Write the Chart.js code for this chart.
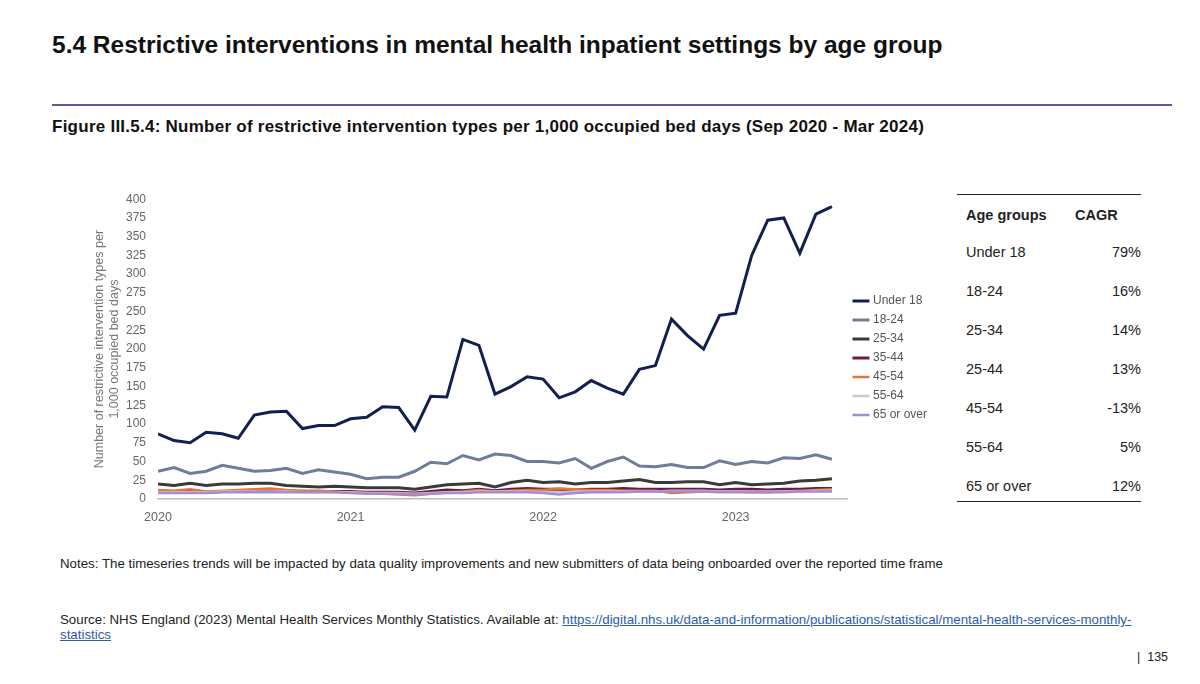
<!DOCTYPE html>
<html><head><meta charset="utf-8">
<script src="https://cdn.jsdelivr.net/npm/chart.js@4"></script>
<style>
body{margin:0;width:1200px;height:684px;background:#fff;font-family:Arial,"Liberation Sans",sans-serif;position:relative;overflow:hidden}
#t1{position:absolute;left:52px;top:31px;font-size:24.5px;font-weight:bold;color:#111}
#rule{position:absolute;left:52px;top:104px;width:1120px;border-top:2px solid #5c5a99}
#t2{position:absolute;left:52px;top:117px;font-size:17px;letter-spacing:0.25px;font-weight:bold;color:#111}
#wrap{position:absolute;left:92px;top:188px;width:845px;height:340px}
#tbl{position:absolute;left:957px;top:194px;width:184px;border-top:1.5px solid #222;border-bottom:1.5px solid #222;height:306px;font-size:14.5px;color:#222}
.r{position:absolute;left:9px;right:0}
.r span.v{position:absolute;right:0}
#notes{position:absolute;left:60px;top:556px;font-size:13.3px;color:#222}
#src{position:absolute;left:60px;top:612px;font-size:13.3px;color:#222;width:1120px;line-height:15px}
#src a{color:#2a5db0}
#pg{position:absolute;left:1137px;top:650px;font-size:12.5px;color:#222}
</style></head><body>
<div id="t1">5.4 Restrictive interventions in mental health inpatient settings by age group</div>
<div id="rule"></div>
<div id="t2">Figure III.5.4: Number of restrictive intervention types per 1,000 occupied bed days (Sep 2020 - Mar 2024)</div>
<div id="wrap"><canvas id="c"></canvas></div>
<div id="tbl"></div>
<div id="notes">Notes: The timeseries trends will be impacted by data quality improvements and new submitters of data being onboarded over the reported time frame</div>
<div id="src">Source: NHS England (2023) Mental Health Services Monthly Statistics. Available at: <a href="#">https://digital.nhs.uk/data-and-information/publications/statistical/mental-health-services-monthly-<br>statistics</a></div>
<div id="pg">|&nbsp;&nbsp;135</div>
<script>
const yearLabels=["2020","2021","2022","2023"];
const under18=[87,78,75,89,87,81,112,116,117,94,98,98,107,109,123,122,92,137,136,213,205,140,150,163,160,135,143,158,148,140,173,178,240,218,200,245,248,325,372,375,328,380,390];
const a18_24=[37,42,34,37,45,41,37,38,41,34,39,36,33,27,29,29,37,49,47,58,52,60,58,50,50,48,54,41,50,56,44,43,46,42,42,51,46,50,48,55,54,59,53];
const a25_34=[20,18,21,18,20,20,21,21,18,17,16,17,16,15,15,15,13,16,19,20,21,16,22,25,22,23,20,22,22,24,26,22,22,23,23,19,22,19,20,21,24,25,27];
const a35_44=[10,9,10,9,10,10,11,11,10,10,10,10,10,9,9,9,8,10,12,11,13,11,13,14,13,13,12,13,13,14,13,13,13,13,13,12,13,13,12,13,13,14,14];
const a45_54=[12,11,13,10,11,12,13,14,12,11,11,10,9,8,7,6,5,7,9,10,12,10,11,12,12,14,13,12,12,11,11,11,8,9,10,10,10,9,9,10,11,12,13];
const a55_64=[9,9,9,9,10,10,10,10,10,9,9,9,9,8,8,8,7,8,9,9,10,10,10,10,9,9,10,10,10,10,10,10,11,11,11,10,10,10,10,10,10,11,11];
const a65=[8,8,8,8,9,9,9,9,9,9,9,9,8,7,7,7,6,7,8,8,9,9,9,9,8,6,8,9,9,9,10,10,10,10,10,9,9,9,9,9,10,10,10];
const ageGroups=["Under 18","18-24","25-34","35-44","45-54","55-64","65 or over"];
const tableGroups=["Under 18","18-24","25-34","25-44","45-54","55-64","65 or over"];
const cagr=["79%","16%","14%","13%","-13%","5%","12%"];
const series=[under18,a18_24,a25_34,a35_44,a45_54,a55_64,a65];
const colors=["#12204f","#6f7d99","#3a3a3a","#6e1a42","#e0763a","#c8c8c8","#a58ad6"];
const widths=[3,3,3,3,2.5,2.5,2.5];
const ds=series.map((s,i)=>({label:ageGroups[i],data:s.map((v,j)=>({x:j,y:v})),borderColor:colors[i],backgroundColor:colors[i],borderWidth:widths[i],pointRadius:0,tension:0,order:i===0?0:7-i}));
new Chart(document.getElementById('c'),{type:'line',data:{datasets:ds},options:{animation:false,responsive:true,maintainAspectRatio:false,
plugins:{legend:{position:'right',labels:{usePointStyle:true,pointStyle:'line',boxWidth:24,padding:7,color:'#555',font:{size:12,family:'Arial'},sort:(a,b)=>a.datasetIndex-b.datasetIndex}},tooltip:{enabled:false}},
scales:{x:{type:'linear',min:0,max:43,afterBuildTicks:ax=>{ax.ticks=[0,12,24,36].map(v=>({value:v}));},
ticks:{color:'#666',font:{size:12.5},callback:v=>yearLabels[v/12]},grid:{display:false},border:{color:'#bbb',width:1.5}},
y:{min:0,max:400,ticks:{stepSize:25,color:'#666',font:{size:12},padding:4},grid:{display:false},border:{display:false},
title:{display:true,text:['Number of restrictive intervention types per','1,000 occupied bed days'],color:'#777',font:{size:12.5},padding:0}}}}});
const t=document.getElementById('tbl');
let h='<div class="r" style="top:12px;font-weight:bold">Age groups<span style="position:absolute;left:109px">CAGR</span></div>';
tableGroups.forEach((g,i)=>{h+=`<div class="r" style="top:${49+i*39}px">${g}<span class="v">${cagr[i]}</span></div>`;});
t.innerHTML=h;
</script>
</body></html>
